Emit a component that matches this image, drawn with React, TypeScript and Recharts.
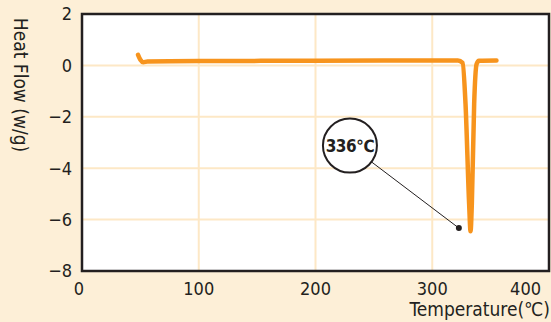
import { Line, LineChart, XAxis, YAxis, CartesianGrid, ReferenceArea, ReferenceDot, ReferenceLine } from "recharts";

// DSC trace: temperature (°C) vs heat flow (W/g)
const temperature = [48, 50, 52.5, 56, 100, 200, 300, 322, 326, 328.5, 331.6, 332.8, 333.9, 335.9, 338, 340, 355];
const heatFlow = [0.41, 0.22, 0.12, 0.15, 0.17, 0.18, 0.19, 0.19, 0.1, -1.5, -5.4, -6.45, -5.4, -1.5, 0.05, 0.18, 0.19];

const xTicks = [0, 100, 200, 300, 400];
const yTicks = [2, 0, -2, -4, -6, -8];

// callout: bubble position and the point it points at
const calloutText = "336℃";
const bubble = { x: 229.5, y: -3.12 };
const pointer = { x: 322.8, y: -6.33 };

const data = temperature.map((t, i) => ({ t, flow: heatFlow[i] }));

const BG = "#fdefd7";
const GRID = "#fde8c6";
const INK = "#231f20";
const ORANGE = "#f7941d";
const FONT = "'DejaVu Sans Condensed', 'Roboto', sans-serif";

// first and last tick labels are nudged so they stay inside the frame corners
const XTick = (props: any) => {
  const { x, y, payload, index } = props;
  const last = index === xTicks.length - 1;
  const dx = index === 0 ? -3 : last ? 2 : 0;
  return (
    <text x={x + dx} y={y + 3} dy="0.71em" textAnchor={last ? "end" : "middle"} fill={INK} fontSize={18} fontFamily={FONT}>
      {payload.value}
    </text>
  );
};

const Bubble = (props: any) => {
  const { cx, cy } = props;
  return (
    <g>
      <circle cx={cx} cy={cy} r={27} fill="#fff" stroke={INK} strokeWidth={2} />
      <text x={cx} y={cy + 6} textAnchor="middle" fill={INK} fontSize={17} fontWeight={700} fontFamily={FONT} letterSpacing={-0.5}>
        {calloutText}
      </text>
    </g>
  );
};

export default function App() {
  return (
    <div style={{ position: "fixed", left: 0, top: 0, width: 551, height: 322, background: BG }}>
      <style>{`body { margin: 0; }`}</style>
      <LineChart width={551} height={322} data={data} margin={{ top: 14, right: 2, left: 0, bottom: 0 }}>
        <CartesianGrid fill="#fff" stroke={GRID} strokeWidth={2} verticalValues={[100, 200, 300]} horizontalValues={[0, -2, -4, -6]} />
        <XAxis
          dataKey="t"
          type="number"
          domain={[0, 400]}
          ticks={xTicks}
          tickLine={false}
          axisLine={false}
          tick={<XTick />}
          height={51}
          label={{
            content: () => (
              <text x={550} y={316} textAnchor="end" fill={INK} fontSize={19} fontFamily={FONT}>
                Temperature(℃)
              </text>
            ),
          }}
        />
        <YAxis
          type="number"
          domain={[-8, 2]}
          ticks={yTicks}
          width={82}
          tickLine={false}
          axisLine={false}
          tickMargin={4}
          tickFormatter={(v: number) => String(v).replace("-", "−")}
          tick={{ fill: INK, fontSize: 18, fontFamily: FONT }}
          label={{
            content: () => (
              <text x={14} y={85} transform="rotate(90 14 85)" textAnchor="middle" fill={INK} fontSize={19} fontFamily={FONT}>
                Heat Flow (w/g)
              </text>
            ),
          }}
        />
        <ReferenceArea x1={0} x2={400} y1={-8} y2={2} fill="none" stroke={INK} strokeWidth={2.5} ifOverflow="visible" />
        <Line
          type="monotone"
          dataKey="flow"
          stroke={ORANGE}
          strokeWidth={4.5}
          strokeLinecap="round"
          strokeLinejoin="round"
          dot={false}
          isAnimationActive={false}
        />
        <ReferenceLine segment={[bubble, pointer]} stroke={INK} strokeWidth={1} ifOverflow="visible" />
        <ReferenceDot x={pointer.x} y={pointer.y} r={3} fill={INK} stroke="none" ifOverflow="visible" />
        <ReferenceDot x={bubble.x} y={bubble.y} shape={<Bubble />} ifOverflow="visible" />
      </LineChart>
    </div>
  );
}
